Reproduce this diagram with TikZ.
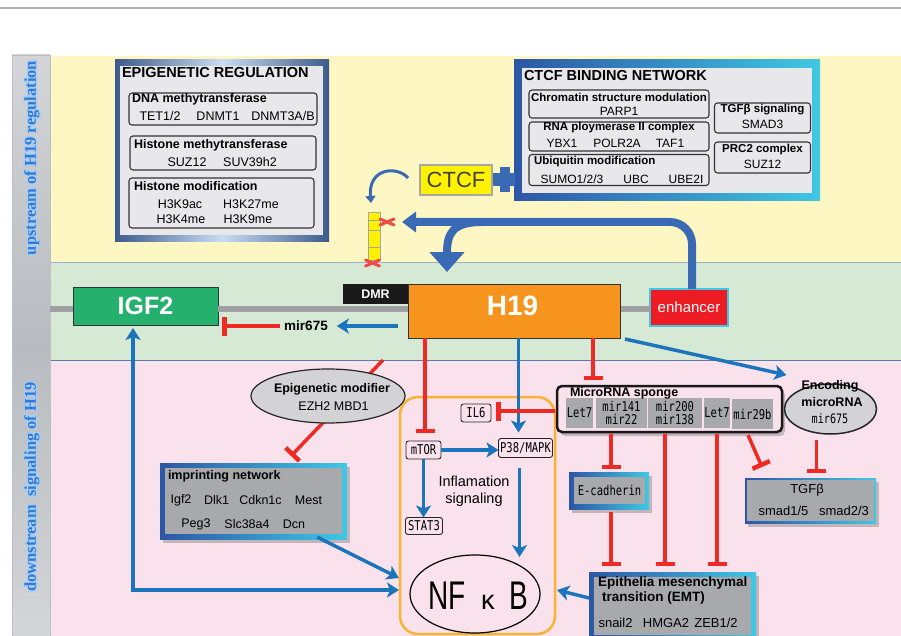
\documentclass[tikz,border=0pt]{standalone}
\usepackage{fontspec}
\setmainfont{Liberation Sans}
\newfontfamily\monof[FakeStretch=0.78]{DejaVu Sans Mono}
\newfontfamily\nfkbf[FakeStretch=0.7]{Liberation Sans}
\newfontfamily\slabf{Liberation Serif}
\usetikzlibrary{arrows.meta,shadows,shapes.geometric,calc}
\definecolor{bgyellow}{HTML}{FEF7C4}
\definecolor{bggreen}{HTML}{D6E9D5}
\definecolor{bgpink}{HTML}{F9E2EC}
\definecolor{ablue}{HTML}{1C75BC}
\definecolor{ared}{HTML}{EE2A24}
\definecolor{bigblue}{HTML}{3A6AB3}
\definecolor{bdark}{HTML}{2D56A6}
\definecolor{bcyan}{HTML}{3FC8E4}
\definecolor{navy}{HTML}{3C5A8C}
\definecolor{lightb}{HTML}{C9DDF2}
\definecolor{boxgray}{HTML}{A8A9AD}
\definecolor{lgray}{HTML}{E8E8EA}
\definecolor{igfgreen}{HTML}{25B06E}
\definecolor{horange}{HTML}{F7941E}
\definecolor{enred}{HTML}{ED1C24}
\definecolor{ctcfyellow}{HTML}{FFF200}
\definecolor{contorange}{HTML}{F9B233}
\definecolor{stripgray}{HTML}{D3D5D8}
\definecolor{stripdark}{HTML}{B8BBBF}
\definecolor{elgray}{HTML}{D3D3D5}
\definecolor{chromgray}{HTML}{9D9FA2}
\definecolor{steelb}{HTML}{5B7CA6}
\definecolor{glowb}{HTML}{A9CDF5}
\definecolor{stripblue}{HTML}{2F7BD6}
\newcommand\fsz[1]{\fontsize{#1}{#1}\selectfont}
\tikzset{
  txt/.style={inner sep=0pt,outer sep=0pt},
  sub/.style={draw=black!80,line width=1.1pt,rounded corners=3pt,inner sep=0pt,outer sep=0pt},
  mbox/.style={draw=black!85,line width=0.9pt,rounded corners=2.5pt,inner sep=0pt,outer sep=0pt,font=\monof\fsz{13.5}},
  bluearr/.style={draw=ablue,line width=3.5pt,-{Stealth[length=12pt,width=15pt,inset=3pt]}},
  redinh/.style={draw=ared,line width=3.5pt,-{Bar[width=19pt,line width=4.5pt]}},
  gbox/.style={left color=bdark,right color=bcyan,inner sep=0pt,outer sep=0pt},
  gin/.style={fill=boxgray,inner sep=0pt,outer sep=0pt},
  shad/.style={drop shadow={shadow xshift=3pt,shadow yshift=-4pt,opacity=0.3,fill=black!70}},
  cell/.style={fill=boxgray,inner sep=0pt,outer sep=0pt,font=\monof\fsz{13.5},align=center},
}
\begin{document}
\begin{tikzpicture}[x=1pt,y=-1pt]
\useasboundingbox (0,0) rectangle (901,636);
\fill[white] (0,0) rectangle (901,636);
\draw[black!30,line width=1.2pt] (0,8) -- (901,8);
% regions
\fill[bgyellow] (50,56) rectangle (901,262);
\fill[bggreen] (50,262) rectangle (901,360);
\fill[bgpink] (50,360) rectangle (901,636);
\draw[steelb!60,line width=0.8pt] (901,262) -- (50,262);
\draw[steelb,line width=1pt] (50,262) -- (50,360) -- (901,360);
% left strip
\shade[top color=stripgray,bottom color=stripgray,middle color=stripdark] (12,55) rectangle (50,636);
\draw[black!25,line width=0.8pt] (12,636) -- (12,55) -- (50,55) -- (50,636);
\foreach \dx/\dy [count=\i] in {-1.4/0,1.4/0,0/-1.4,0/1.4,-1/-1,1/1,-1/1,1/-1}{
  \node[txt,rotate=90,text=glowb,font=\slabf\bfseries\fsz{16.5}] (gu\i) at ($(32,158)+(\dx,\dy)$) {upstream of H19 regulation};
  \node[txt,rotate=90,text=glowb,font=\slabf\bfseries\fsz{16.5}] (gd\i) at ($(32,487)+(\dx,\dy)$) {downstream\ \ signaling of H19};
}
\node[txt,rotate=90,text=stripblue,font=\slabf\bfseries\fsz{16.5}] (upst) at (32,158) {upstream of H19 regulation};
\node[txt,rotate=90,text=stripblue,font=\slabf\bfseries\fsz{16.5}] (downst) at (32,487) {downstream\ \ signaling of H19};

% ---------- EPIGENETIC REGULATION ----------
\node[txt,minimum width=214pt,minimum height=181pt,left color=navy,right color=navy,middle color=lightb] (epi) at (222,150.5) {};
\node[txt,fill=lgray,minimum width=203pt,minimum height=169pt] (epiin) at (221.5,150.5) {};
\node[txt,anchor=west,font=\bfseries\fsz{14.5}] (epit) at (122,73) {EPIGENETIC REGULATION};
\node[sub,minimum width=188pt,minimum height=32pt] (dna) at (223,109) {};
\node[txt,anchor=west,font=\bfseries\fsz{12.5}] (dnat) at (132,99.5) {DNA methytransferase};
\node[txt,font=\fsz{12.5}] (tet) at (160,116) {TET1/2};
\node[txt,font=\fsz{12.5}] (dnmt1) at (218,116) {DNMT1};
\node[txt,font=\fsz{12.5}] (dnmt3) at (283,116) {DNMT3A/B};
\node[sub,minimum width=186pt,minimum height=34pt] (hmt) at (223,153) {};
\node[txt,anchor=west,font=\bfseries\fsz{12.5}] (hmtt) at (134,145) {Histone methytransferase};
\node[txt,font=\fsz{12.5}] (suz) at (187,162) {SUZ12};
\node[txt,font=\fsz{12.5}] (suv) at (250,162) {SUV39h2};
\node[sub,minimum width=185pt,minimum height=50pt] (hmod) at (221.5,203) {};
\node[txt,anchor=west,font=\bfseries\fsz{12.5}] (hmodt) at (134,186) {Histone modification};
\node[txt,font=\fsz{12.5}] (k9ac) at (180,204) {H3K9ac};
\node[txt,font=\fsz{12.5}] (k27) at (251,204) {H3K27me};
\node[txt,font=\fsz{12.5}] (k4) at (181,219) {H3K4me};
\node[txt,font=\fsz{12.5}] (k9) at (248,219) {H3K9me};

% ---------- CTCF BINDING NETWORK ----------
\node[gbox,minimum width=306pt,minimum height=141pt] (net) at (667,130.5) {};
\node[txt,fill=lgray,minimum width=290pt,minimum height=125pt] (netin) at (667,130.5) {};
\node[txt,anchor=west,font=\bfseries\fsz{14.5}] (nett) at (524,75.5) {CTCF BINDING NETWORK};
\node[sub,minimum width=180pt,minimum height=28pt] (chrom) at (619,104) {};
\node[txt,font=\bfseries\fsz{11.5}] (chromt) at (619,97) {Chromatin structure modulation};
\node[txt,font=\fsz{12}] (parp) at (619,111) {PARP1};
\node[sub,minimum width=180pt,minimum height=29pt] (rnap) at (619,136.5) {};
\node[txt,font=\bfseries\fsz{11.5}] (rnapt) at (619,128) {RNA ploymerase II complex};
\node[txt,font=\fsz{12}] (ybx) at (562,143) {YBX1};
\node[txt,font=\fsz{12}] (polr) at (617,143) {POLR2A};
\node[txt,font=\fsz{12}] (taf) at (670,143) {TAF1};
\node[sub,minimum width=180pt,minimum height=31pt] (ubi) at (619,170) {};
\node[txt,anchor=west,font=\bfseries\fsz{11.5}] (ubit) at (534,161.5) {Ubiquitin modification};
\node[txt,font=\fsz{12}] (sumo) at (572,179) {SUMO1/2/3};
\node[txt,font=\fsz{12}] (ubc) at (636,179) {UBC};
\node[txt,font=\fsz{12}] (ube) at (686,179) {UBE2I};
\node[sub,minimum width=96pt,minimum height=30pt] (tgfs) at (762.5,118) {};
\node[txt,font=\bfseries\fsz{11.5}] (tgfst) at (762.5,110) {TGFβ signaling};
\node[txt,font=\fsz{12}] (smad3) at (762.5,124.5) {SMAD3};
\node[sub,minimum width=96pt,minimum height=31pt] (prc) at (762.5,157.5) {};
\node[txt,font=\bfseries\fsz{11.5}] (prct) at (762.5,150) {PRC2 complex};
\node[txt,font=\fsz{12}] (suz2) at (762.5,164.5) {SUZ12};

% ---------- CTCF ----------
\node[txt,fill=ctcfyellow,draw=black!35,line width=1.5pt,minimum width=72pt,minimum height=30pt,font=\fsz{22},text=black!75] (ctcf) at (456,180) {CTCF};
\fill[bigblue] ($(ctcf.east)+(1,-6.5)$) rectangle ($(ctcf.east)+(23,6.5)$);
\fill[bigblue] ($(ctcf.east)+(8,-12.5)$) rectangle ($(ctcf.east)+(18,12.5)$);

% ---------- chromosome ----------
\node[txt,fill=igfgreen,draw=black!80,line width=0.8pt,minimum width=145pt,minimum height=38pt,font=\bfseries\fsz{25},text=white] (IGF2) at (145.5,306) {IGF2};
\node[txt,fill=enred,draw=bcyan,line width=1.2pt,minimum width=78pt,minimum height=37pt,font=\fsz{15},text=white] (enh) at (689,307.5) {enhancer};
\draw[chromgray,line width=6pt] ($(IGF2.east)+(0,3)$) -- ($(enh.west)+(0,1.5)$);
\draw[chromgray,line width=6pt] (50,309) -- ($(IGF2.west)+(0,3)$);
\node[txt,fill=black!90,minimum width=65pt,minimum height=20pt,font=\bfseries\fsz{12.5},text=white] (DMR) at (375.5,294) {DMR};
\node[txt,fill=horange,draw=black!80,line width=0.8pt,minimum width=212pt,minimum height=54pt] (H19) at (514,311) {};
\node[txt,font=\bfseries\fsz{28},text=white] (H19t) at (512.5,306) {H19};

% yellow column and red crosses
\node[txt,fill=ctcfyellow,draw=black!35,line width=0.9pt,minimum width=12pt,minimum height=48pt] (col) at (374,236) {};
\draw[black!35,line width=0.8pt] ($(col.north west)+(0,8)$) -- ($(col.north east)+(0,8)$)
  ($(col.north west)+(0,18)$) -- ($(col.north east)+(0,18)$)
  ($(col.north west)+(0,35)$) -- ($(col.north east)+(0,35)$);
\coordinate (x1) at ($(col.east)+(7,-14)$);
\coordinate (x2) at ($(DMR.north)+(-3,-21)$);
\foreach \c in {x1,x2}{
  \draw[ared!85,line width=3pt,line cap=round] ($(\c)+(-7,-3)$) -- ($(\c)+(7,3)$) ($(\c)+(-7,3)$) -- ($(\c)+(7,-3)$);
}

% small curved arrow
\draw[bigblue,line width=3pt,-{Triangle[length=7pt,width=10pt]}] ($(ctcf.west)+(-12,-2)$) .. controls ($(ctcf.west)+(-22,-14)$) and ($(col.north)+(-6,-45)$) .. ($(col.north)+(-3,-9)$);
% big blue arrow from enhancer
\draw[bigblue,line width=8pt,rounded corners=22pt,-{Triangle[length=14pt,width=20pt]}] ($(enh.north)+(3,0)$) -- ($(enh.north)+(3,-67)$) -- ($(col.east)+(22,-14)$);
\draw[bigblue,line width=8pt,-{Triangle[length=20pt,width=34pt]}] ($(col.east)+(102,-14)$) .. controls ($(col.east)+(72,-14)$) and ($(H19.north west)+(39,-50)$) .. ($(H19.north west)+(39,-12)$);

% mir675
\node[txt,font=\bfseries\fsz{13.5}] (mir) at (306,326) {mir675};
\draw[bluearr] ($(H19.west |- mir.east)+(-10,0)$) -- ($(mir.east)+(9,0)$);
\draw[redinh] ($(mir.west)+(-4,0)$) -- ($(IGF2.east |- mir.west)+(4,0)$);

% ---------- downstream ----------
\node[draw=contorange,line width=2.5pt,rounded corners=18pt,minimum width=155pt,minimum height=237pt,txt] (cont) at (477.5,515.5) {};
\node[txt,gbox,shad,minimum width=187pt,minimum height=76pt] (imp) at (253.5,501) {};
\node[gin,minimum width=177pt,minimum height=66pt] (impin) at (253.5,501) {};
\draw[redinh] ($(H19.south west)+(-25,22)$) -- ($(imp.north)+(37.5,-7)$);
\node[txt,ellipse,fill=elgray,draw=black!85,line width=1.2pt,minimum width=154pt,minimum height=54pt] (epim) at (328,396) {};
\node[txt,font=\bfseries\fsz{12.5}] (epimt) at (332,389.5) {Epigenetic modifier};
\node[txt,font=\fsz{12.5}] (ezh) at (333.5,406.5) {EZH2 MBD1};
\node[txt,anchor=west,font=\bfseries\fsz{12.5}] (impt) at (168,476) {imprinting network};
\node[txt,font=\fsz{12.5}] (igf2s) at (181,500) {Igf2};
\node[txt,font=\fsz{12.5}] (dlk) at (216.5,500) {Dlk1};
\node[txt,font=\fsz{12.5}] (cdkn) at (260.5,500) {Cdkn1c};
\node[txt,font=\fsz{12.5}] (mest) at (308.5,500) {Mest};
\node[txt,font=\fsz{12.5}] (peg) at (196,524.5) {Peg3};
\node[txt,font=\fsz{12.5}] (slc) at (247,524.5) {Slc38a4};
\node[txt,font=\fsz{12.5}] (dcn) at (294,524.5) {Dcn};

% inflammation
\node[mbox,minimum width=30pt,minimum height=18pt] (IL6) at (476,413) {IL6};
\node[mbox,minimum width=35pt,minimum height=18pt] (mTOR) at (423.5,450) {mTOR};
\node[mbox,minimum width=54pt,minimum height=19pt] (P38) at (525.5,448) {P38/MAPK};
\node[mbox,minimum width=37pt,minimum height=17pt] (STAT3) at (424,526) {STAT3};
\node[txt,font=\fsz{14.5},align=center] (infl) at (474,491) {Inflamation\\[2pt]signaling};
\node[txt,ellipse,draw=black,line width=1.2pt,minimum width=130pt,minimum height=78pt] (nfkb) at (475,594) {};
\node[txt] (nfkbt) at (478.5,596) {{\nfkbf\fsz{40}NF}\hspace{15pt}{\fsz{27}κ}\hspace{15pt}{\nfkbf\fsz{40}B}};

% microRNA sponge
\node[txt,draw=black!90,line width=2.5pt,rounded corners=5pt,minimum width=225pt,minimum height=46pt,fill=bgpink,shad] (sponge) at (669.5,409) {};
\node[cell,minimum width=27pt,minimum height=30pt] (c1) at (579.5,413) {Let7};
\node[cell,minimum width=51pt,minimum height=30pt] (c2) at (621.5,413) {mir141\\[0pt]mir22};
\node[cell,minimum width=54pt,minimum height=30pt] (c3) at (675,413) {mir200\\[0pt]mir138};
\node[cell,minimum width=26pt,minimum height=30pt] (c4) at (717,413) {Let7};
\node[cell,minimum width=41pt,minimum height=30pt] (c5) at (752.5,414) {mir29b};
\node[txt,anchor=west,font=\bfseries\fsz{12.5}] (spt) at (570,393) {MicroRNA sponge};

% encoding microRNA
\node[txt,ellipse,fill=elgray,draw=black!85,line width=1.5pt,minimum width=92pt,minimum height=50pt] (enc) at (830.5,409) {};
\node[txt,font=\bfseries\fsz{12.5}] (enct1) at (830,386.5) {Encoding};
\node[txt,font=\bfseries\fsz{12.5}] (enct2) at (832,402) {microRNA};
\node[txt,font=\monof\fsz{13}] (enct3) at (830,419) {mir675};

% E-cadherin
\node[gbox,shad,minimum width=80pt,minimum height=37pt] (Ecad) at (609,490.5) {};
\node[gin,minimum width=71pt,minimum height=27pt,font=\monof\fsz{13.5}] (Ecadin) at (609.5,490.5) {E-cadherin};
% TGF beta
\node[gbox,shad,minimum width=131pt,minimum height=45pt] (TGF) at (810.5,500.5) {};
\node[gin,minimum width=127pt,minimum height=41pt] (TGFin) at (810.5,500.5) {};
\node[txt,font=\fsz{13}] (tgft) at (807,490) {TGFβ};
\node[txt,font=\fsz{13}] (smad15) at (783.5,510.5) {smad1/5};
\node[txt,font=\fsz{13}] (smad23) at (844,510.5) {smad2/3};
% EMT
\node[gbox,shad,minimum width=167pt,minimum height=68pt] (EMT) at (672.5,606) {};
\node[gin,minimum width=157pt,minimum height=58pt] (EMTin) at (672.5,606) {};
\node[txt,anchor=west,font=\bfseries\fsz{13.5}] (emt1) at (598,583) {Epithelia mesenchymal};
\node[txt,anchor=west,font=\bfseries\fsz{13.5}] (emt2) at (602,598.5) {transition (EMT)};
\node[txt,font=\fsz{13}] (snail) at (615.5,623) {snail2};
\node[txt,font=\fsz{13}] (hmga) at (666,623) {HMGA2};
\node[txt,font=\fsz{13}] (zeb) at (716,623) {ZEB1/2};

% ---------- connectors ----------
\draw[draw=ablue,line width=3.5pt,{Stealth[length=12pt,width=15pt,inset=3pt]}-{Stealth[length=12pt,width=15pt,inset=3pt]}] ($(cont.west)+(-1,74.5)$) -| ($(IGF2.south)+(-12.5,3)$);
\draw[bluearr] ($(imp.south east)+(-30,-2)$) -- ($(cont.west)+(-1,62.5)$);
\draw[bluearr] ($(EMT.west)+(0,-8)$) -- ($(cont.east)+(2,74.5)$);
\draw[redinh] ($(H19.south -| mTOR.north)+(1.5,0)$) -- ($(mTOR.north)+(1.5,-8)$);
\draw[bluearr] ($(H19.south -| P38.north)+(-7,0)$) -- ($(P38.north)+(-7,-6)$);
\draw[redinh] ($(sponge.west)+(-2,2)$) -- ($(IL6.east)+(5,-2)$);
\draw[bluearr] (mTOR.east) -- (mTOR.east -| P38.west);
\draw[bluearr] (mTOR.south) -- (mTOR.south |- STAT3.north);
\draw[bluearr] ($(P38.south)+(-6,10)$) -- ($(P38.south |- nfkb.north)+(-6,2)$);
\draw[redinh] ($(H19.south east)+(-27,0)$) -- ($(H19.south east |- sponge.north)+(-27,-6)$);
\draw[bluearr] ($(H19.south east)+(5,1)$) -- ($(enc.west)+(2,-34)$);
\draw[redinh] ($(sponge.south -| Ecad.north)+(2,2)$) -- ($(Ecad.north)+(2,-3)$);
\draw[redinh] ($(Ecad.south)+(2,3)$) -- ($(Ecad.south |- EMT.north)+(2,-6)$);
\draw[redinh] ($(sponge.south)+(-4.5,2)$) -- ($(sponge.south |- EMT.north)+(-4.5,-6)$);
\draw[redinh] ($(sponge.south)+(47.5,2)$) -- ($(sponge.south |- EMT.north)+(47.5,-6)$);
\draw[redinh] ($(sponge.south east)+(-34,3)$) -- ($(TGF.north west)+(17,-11)$);
\draw[redinh] ($(enc.south)+(-14,6)$) -- ($(enc.south |- TGF.north)+(-14,-5)$);
\end{tikzpicture}
\end{document}
